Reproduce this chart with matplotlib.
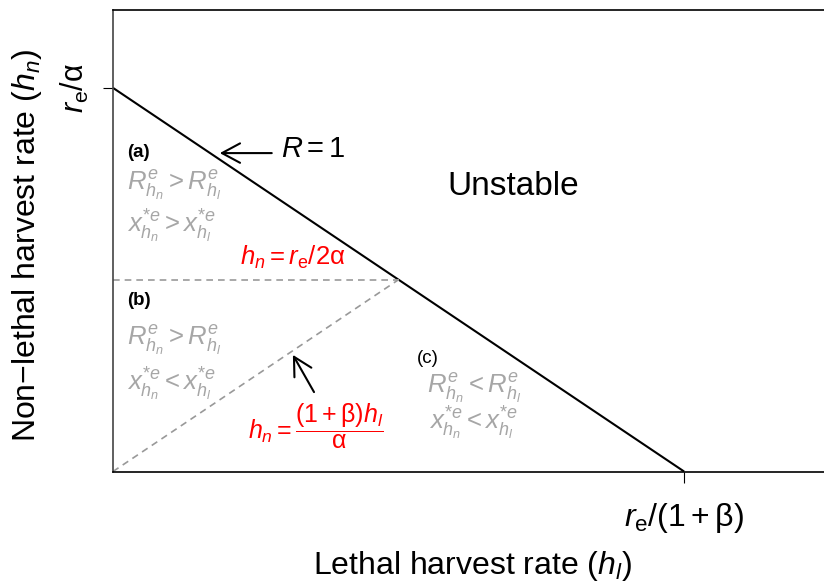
import numpy as np
import matplotlib.pyplot as plt

plt.rcParams['font.family'] = ['Liberation Sans', 'DejaVu Sans']
plt.rcParams['mathtext.fontset'] = 'custom'
plt.rcParams['mathtext.rm'] = 'Liberation Sans'
plt.rcParams['mathtext.it'] = 'Liberation Sans:italic'
plt.rcParams['mathtext.bf'] = 'Liberation Sans:bold'

# axis units: h_l in re/(1+beta), h_n in re/alpha
x_max, y_max = 1.245, 1.203

# R = 1 boundary
r1_x = [0.0, 1.0]
r1_y = [1.0, 0.0]
# h_n = re/2alpha (horizontal dashed)
half_x = [0.0, 0.5]
half_y = [0.5, 0.5]
# h_n = (1+beta) h_l / alpha (diagonal dashed)
diag_x = [0.0, 0.5]
diag_y = [0.0, 0.5]

x_ticks = [1.0]
x_ticklabels = [r"$r_\mathrm{e}/(1+\mathrm{\beta})$"]
y_ticks = [1.0]
y_ticklabels = [r"$r_\mathrm{e}/\mathrm{\alpha}$"]

gray = "#a6a6a6"

fig = plt.figure(figsize=(8.24, 5.83), dpi=100)
ax = fig.add_axes([113 / 824, 1 - 471.5 / 583, 1 - 113 / 824, 461.5 / 583])

ax.plot(r1_x, r1_y, color="k", lw=1.5, solid_capstyle="butt")
ax.plot(half_x, half_y, color="#999999", lw=1.2, linestyle=(0, (4, 3)))
ax.plot(diag_x, diag_y, color="#999999", lw=1.2, linestyle=(0, (4, 3)))

ax.set_xlim(0, x_max)
ax.set_ylim(0, y_max)
ax.set_xticks(x_ticks)
ax.set_xticklabels(x_ticklabels, fontsize=23)
ax.set_yticks(y_ticks)
ax.set_yticklabels(y_ticklabels, fontsize=22, rotation=90, va="center")
ax.tick_params(axis="x", length=8, width=0.8, pad=13)
ax.tick_params(axis="y", length=7, width=0.8, pad=9)

ax.spines["right"].set_visible(False)
ax.spines["top"].set_linewidth(1.2)
ax.spines["bottom"].set_linewidth(1.2)
ax.spines["left"].set_linewidth(1.2)
ax.spines["left"].set_color("#444444")

ax.set_xlabel(r"Lethal harvest rate ($h_l$)", fontsize=23)
ax.set_ylabel("Non\u2212lethal harvest rate ($h_n$)", fontsize=23)
ax.xaxis.set_label_coords(0.505, -0.168)
ax.yaxis.set_label_coords(-0.097, 0.49)

# region labels
ax.text(0.0245, 0.820, "(a)", fontsize=13.5, fontweight="bold")
ax.text(0.0245, 0.734, r"$R^{e}_{h_n} > R^{e}_{h_l}$", fontsize=18.5, color=gray)
ax.text(0.0245, 0.623, r"$x^{*e}_{h_n} > x^{*e}_{h_l}$", fontsize=18.5, color=gray)

ax.text(0.0245, 0.434, "(b)", fontsize=13.5, fontweight="bold")
ax.text(0.0245, 0.330, r"$R^{e}_{h_n} > R^{e}_{h_l}$", fontsize=18.5, color=gray)
ax.text(0.0245, 0.212, r"$x^{*e}_{h_n} < x^{*e}_{h_l}$", fontsize=18.5, color=gray)

ax.text(0.532, 0.283, "(c)", fontsize=13.5)
ax.text(0.55, 0.204, r"$R^{e}_{h_n} < R^{e}_{h_l}$", fontsize=18.5, color=gray)
ax.text(0.553, 0.108, r"$x^{*e}_{h_n} < x^{*e}_{h_l}$", fontsize=18.5, color=gray)

ax.text(0.70, 0.744, "Unstable", fontsize=24, ha="center", va="center")

ax.text(0.222, 0.538, r"$h_n = r_\mathrm{e}/2\mathrm{\alpha}$", fontsize=18.5, color="red")
ax.text(0.236, 0.119, r"$h_n = \dfrac{(1+\mathrm{\beta})h_l}{\mathrm{\alpha}}$", fontsize=18,
        color="red", va="center")

# arrows
arrow = dict(arrowstyle="->,head_length=0.65,head_width=0.35", lw=1.5, color="k",
             mutation_scale=20, shrinkA=0, shrinkB=0)
ax.annotate("", xy=(0.187, 0.830), xytext=(0.278, 0.830), arrowprops=arrow)
ax.text(0.295, 0.820, r"$R = 1$", fontsize=21)
ax.annotate("", xy=(0.315, 0.304), xytext=(0.352, 0.207), arrowprops=arrow)

fig.savefig("out.png", dpi=100)
